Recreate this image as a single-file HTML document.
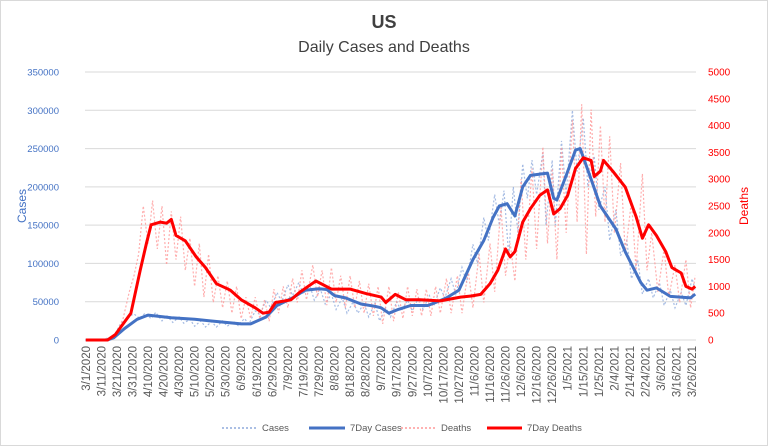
<!DOCTYPE html>
<html><head><meta charset="utf-8"><style>
body{margin:0;background:#fff;}
svg{display:block;font-family:"Liberation Sans",sans-serif;}
</style></head><body>
<svg id="chart" width="768" height="446">
<rect x="0.5" y="0.5" width="767" height="445" fill="#fff" stroke="#d9d9d9"/>
<text x="384" y="28" text-anchor="middle" font-size="18" font-weight="bold" fill="#404040">US</text>
<text x="384" y="52" text-anchor="middle" font-size="16" fill="#404040">Daily Cases and Deaths</text>
<text transform="translate(26,206) rotate(-90)" text-anchor="middle" font-size="12" fill="#4472c4">Cases</text>
<text transform="translate(748,206) rotate(-90)" text-anchor="middle" font-size="12" fill="#ff0000">Deaths</text>
<g id="grid"></g><g id="raw"></g><g id="avg"></g><g id="ticks"></g>
<g id="legend">
<line x1="222" y1="428" x2="258" y2="428" stroke="#8faadc" stroke-width="1.5" stroke-dasharray="2,2"/>
<text x="262" y="431" font-size="9.5" fill="#595959">Cases</text>
<line x1="309" y1="428" x2="345" y2="428" stroke="#4472c4" stroke-width="3"/>
<text x="350" y="431" font-size="9.5" fill="#595959">7Day Cases</text>
<line x1="401" y1="428" x2="436" y2="428" stroke="#ff9999" stroke-width="1.5" stroke-dasharray="2,2"/>
<text x="441" y="431" font-size="9.5" fill="#595959">Deaths</text>
<line x1="487" y1="428" x2="522" y2="428" stroke="#ff0000" stroke-width="3"/>
<text x="527" y="431" font-size="9.5" fill="#595959">7Day Deaths</text>
</g>
</svg>
<script>
const leftTicks=[0,50000,100000,150000,200000,250000,300000,350000];
const rightTicks=[0,500,1000,1500,2000,2500,3000,3500,4000,4500,5000];
const avgCaseDays=[0,14,18,25,33,40,55,70,80,100,106,116,123,133,141,150,155,160,167,177,186,190,195,201,209,220,225,232,240,249,256,262,266,271,276,281,286,297,301,303,309,315,318,325,331,341,347,357,361,367,376,389,392];
const avgCases=[0,0,3000,15000,27000,32500,29000,27000,25000,21000,21000,30000,45000,55000,65000,67000,66000,58000,55000,47000,44000,42000,35000,40000,45000,45000,49000,55000,65000,105000,130000,160000,175000,178000,162000,200000,215000,218000,185000,183000,215000,248000,250000,210000,175000,145000,115000,75000,65000,68000,57000,55000,60000];
const avgDeathDays=[0,14,19,29,35,39,42,48,52,55,58,64,71,77,84,93,100,109,114,118,122,132,138,148,158,170,180,190,193,199,206,215,228,241,248,254,260,265,270,273,276,281,286,292,297,301,305,310,315,320,325,327,331,333,339,347,354,358,362,367,373,377,383,386,390,392];
const avgDeaths=[0,0,100,500,1300,1800,2150,2200,2180,2250,1950,1850,1550,1350,1050,930,750,600,500,520,700,750,900,1100,950,950,870,800,700,850,750,750,730,800,820,850,1050,1300,1700,1550,1650,2200,2450,2700,2800,2350,2450,2700,3200,3400,3350,3050,3150,3350,3150,2850,2300,1900,2150,1950,1650,1350,1250,1000,950,1000];
const rawCaseDays=[0,10,18,22,27,31,35,38,42,45,49,52,56,60,63,67,70,74,77,81,84,88,91,95,98,102,105,109,112,116,119,123,126,130,133,137,140,144,147,151,154,158,161,165,168,172,175,179,182,186,189,193,196,200,203,207,210,214,217,221,224,228,231,235,238,242,245,249,252,256,259,263,266,269,272,275,278,281,284,287,290,294,296,300,302,306,309,313,316,320,323,327,330,334,337,341,344,348,351,355,358,362,365,369,372,376,379,383,386,390,392];
const rawCases=[0,0,5000,20000,30000,34000,28000,35000,28000,36000,25000,32000,23000,30000,22000,27000,18000,25000,17000,24000,17000,25000,18000,24000,19000,28000,21000,38000,33000,52000,42000,62000,50000,72000,58000,75000,60000,72000,52000,66000,47000,60000,40000,55000,35000,50000,35000,48000,30000,48000,25000,42000,30000,50000,38000,52000,38000,55000,40000,58000,45000,68000,55000,80000,60000,95000,75000,125000,100000,160000,130000,190000,150000,195000,110000,200000,140000,230000,185000,235000,190000,245000,150000,235000,150000,260000,190000,300000,220000,290000,200000,240000,170000,200000,130000,170000,110000,130000,80000,105000,60000,80000,55000,75000,45000,65000,42000,62000,45000,80000,65000];
const rawDeathDays=[0,15,20,24,28,31,34,37,40,43,46,49,52,55,58,61,64,67,70,73,76,79,82,85,88,91,94,97,100,103,106,109,112,115,118,121,124,127,130,133,136,139,142,146,149,152,155,158,161,164,167,170,173,176,179,182,185,188,191,195,198,201,204,207,210,213,216,219,222,225,228,232,235,239,242,246,249,253,256,260,263,267,270,273,276,280,283,287,290,294,297,300,303,306,309,313,316,319,322,325,328,331,334,337,340,344,347,351,354,358,361,364,368,372,375,379,382,386,389,392];
const rawDeaths=[0,20,150,400,900,1200,1600,2500,1800,2600,1700,2500,1400,2400,1500,2300,1300,1900,1000,1800,800,1600,700,1200,600,1100,500,1000,400,800,400,800,400,750,350,950,500,1000,600,1150,700,1300,750,1400,800,1300,650,1350,700,1200,600,1200,600,1100,500,1050,450,1000,300,1000,350,900,400,1000,450,950,450,950,450,1000,500,1150,500,1200,500,1300,600,1600,700,1800,900,2500,1200,1800,1100,3000,1500,3200,1700,3600,1800,3200,1500,3600,2000,4100,2200,4400,1600,4300,2300,4000,2200,3800,2000,3300,1600,2600,1300,3100,1300,2000,900,1700,800,1400,700,1500,600,1200];

const NS="http://www.w3.org/2000/svg";
const X0=85,X1=696,Y0=340,Y1=72,NDAYS=393;
const xs=d=>X0+(d+0.5)*(X1-X0)/NDAYS;
const yL=v=>Y0-v/350000*(Y0-Y1);
const yR=v=>Y0-v/5000*(Y0-Y1);
function mk(tag,attrs,parent){const e=document.createElementNS(NS,tag);for(const k in attrs)e.setAttribute(k,attrs[k]);parent.appendChild(e);return e;}
const grid=document.getElementById('grid'),ticks=document.getElementById('ticks');
leftTicks.forEach(t=>{
  const l=mk('line',{x1:X0,x2:X1,y1:yL(t),y2:yL(t),stroke:'#d9d9d9','stroke-width':1},grid);
  
  
  const tx=mk('text',{x:59,y:yL(t)+3.5,'text-anchor':'end','font-size':9.5,fill:'#4472c4'},ticks);
  tx.textContent=t;
  
  
});
rightTicks.forEach(t=>{
  const tx=mk('text',{x:708,y:yR(t)+3.5,'font-size':10,fill:'#ff0000'},ticks);
  tx.textContent=t;
  
  
});
const start=new Date(2020,2,1);
for(let d=0;d<NDAYS;d+=10){
  const dt=new Date(start.getTime());dt.setDate(dt.getDate()+d);
  const lbl=(dt.getMonth()+1)+'/'+dt.getDate()+'/'+dt.getFullYear();
  const x=xs(d)+4;
  const tx=mk('text',{transform:`translate(${x},346) rotate(-90)`,'text-anchor':'end','font-size':11.5,fill:'#595959'},ticks);
  tx.textContent=lbl;
  
  
}
function path(days,vals,yf){return days.map((d,i)=>(i?'L':'M')+xs(d).toFixed(1)+','+yf(vals[i]).toFixed(1)).join('');}
const raw=document.getElementById('raw'),avg=document.getElementById('avg');
const p1=mk('path',{d:path(rawCaseDays,rawCases,yL),fill:'none',stroke:'#8faadc','stroke-width':1.2,'stroke-dasharray':'2,2',opacity:0.8},raw);


const p2=mk('path',{d:path(rawDeathDays,rawDeaths,yR),fill:'none',stroke:'#ff9999','stroke-width':1.2,'stroke-dasharray':'2,2',opacity:0.8},raw);


const p3=mk('path',{d:path(avgCaseDays,avgCases,yL),fill:'none',stroke:'#4472c4','stroke-width':3,'stroke-linejoin':'round'},avg);


const p4=mk('path',{d:path(avgDeathDays,avgDeaths,yR),fill:'none',stroke:'#ff0000','stroke-width':3,'stroke-linejoin':'round'},avg);


</script>
</body></html>
